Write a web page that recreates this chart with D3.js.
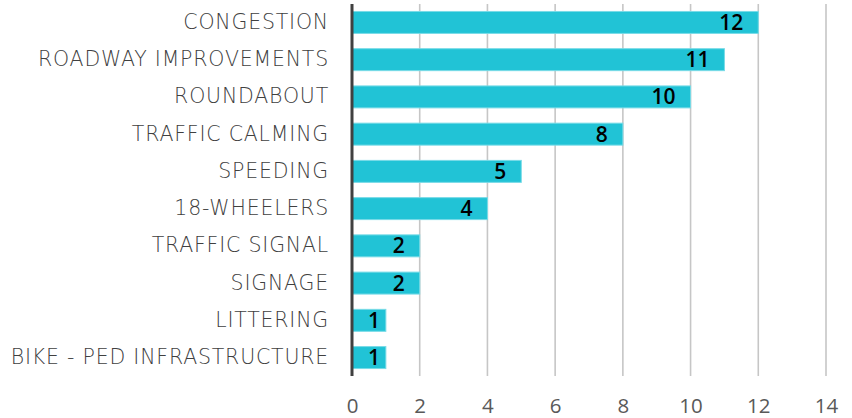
<!DOCTYPE html>
<html>
<head>
<meta charset="utf-8">
<script src="https://cdn.jsdelivr.net/npm/d3@7"></script>
<style>
  html, body { margin: 0; padding: 0; background: #fff; }
  svg { display: block; }
</style>
</head>
<body>
<svg id="chart" width="852" height="418"></svg>
<script>
// Number of comments per topic
const categories = [
  "CONGESTION", "ROADWAY IMPROVEMENTS", "ROUNDABOUT", "TRAFFIC CALMING",
  "SPEEDING", "18-WHEELERS ", "TRAFFIC SIGNAL", "SIGNAGE", "LITTERING",
  "BIKE - PED INFRASTRUCTURE"
];
const counts = [12, 11, 10, 8, 5, 4, 2, 2, 1, 1];
const tickValues = [0, 2, 4, 6, 8, 10, 12, 14];

const svg = d3.select("#chart");
const plotLeft = 352, plotRight = 826, plotTop = 4, plotBottom = 376;

const x = d3.scaleLinear().domain([0, 14]).range([plotLeft, plotRight]);
const y = d3.scaleBand().domain(categories).range([plotTop, plotBottom]).paddingInner(0.41).paddingOuter(0.2);

// vertical gridlines
svg.append("g").selectAll("line")
  .data(tickValues.filter(d => d > 0))
  .join("line")
  .attr("x1", d => x(d)).attr("x2", d => x(d))
  .attr("y1", plotTop).attr("y2", plotBottom)
  .attr("stroke", "#c6c6c6").attr("stroke-width", 1.6);

// bottom tick labels
const xAxis = d3.axisBottom(x).tickValues(tickValues).tickSize(0).tickPadding(0);
const gx = svg.append("g").attr("transform", `translate(0,${plotBottom + 22})`).call(xAxis);
gx.select(".domain").remove();
gx.selectAll("text")
  .attr("font-family", "'Open Sans', sans-serif")
  .attr("font-size", 20.5)
  .attr("fill", "#595959")
  .attr("dy", "0.71em")
  .attr("y", 0);

// bars
svg.append("g").selectAll("rect")
  .data(categories.map((c, i) => ({ c, v: counts[i] })))
  .join("rect")
  .attr("x", x(0))
  .attr("y", d => y(d.c))
  .attr("width", d => x(d.v) - x(0))
  .attr("height", y.bandwidth())
  .attr("fill", "#21c3d6")
  .attr("stroke", "#78dbe7")
  .attr("stroke-width", 1);

// value labels at the inside end of each bar
svg.append("g").selectAll("text")
  .data(categories.map((c, i) => ({ c, v: counts[i] })))
  .join("text")
  .attr("x", d => Math.max(x(d.v) - 15, x(0) + 28))
  .attr("y", d => y(d.c) + y.bandwidth() / 2)
  .attr("dy", "0.36em")
  .attr("text-anchor", "end")
  .attr("font-family", "'Open Sans', sans-serif")
  .attr("font-weight", 600)
  .attr("font-size", 21)
  .attr("fill", "#000")
  .text(d => d.v);

// category axis
const yAxis = d3.axisLeft(y).tickSize(0).tickPadding(23);
const gy = svg.append("g").attr("transform", `translate(${plotLeft},0)`).call(yAxis);
gy.select(".domain")
  .attr("d", `M0,${plotTop}V${plotBottom}`)
  .attr("stroke", "#404040").attr("stroke-width", 3);
gy.selectAll("text")
  .attr("font-family", "'DejaVu Sans', sans-serif")
  .attr("font-weight", 200)
  .attr("font-size", 20.5)
  .attr("letter-spacing", 0.8)
  .attr("fill", "#404040");
</script>
</body>
</html>
